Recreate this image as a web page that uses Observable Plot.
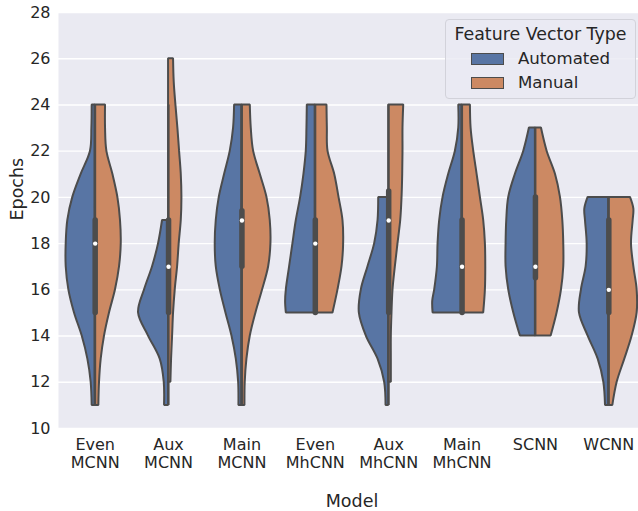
<!DOCTYPE html>
<html>
<head>
<meta charset="utf-8">
<script src="https://cdn.jsdelivr.net/npm/d3@7"></script>
<script src="https://cdn.jsdelivr.net/npm/@observablehq/plot@0.6"></script>
<style>
  body { margin: 0; background: #fff; overflow: hidden; }
  #wrap { position: relative; width: 638px; height: 511px; overflow: hidden; font-family: "DejaVu Sans", sans-serif; color: #262626; }
  #legend { position: absolute; left: 445px; top: 19px; width: 191px; height: 80px; box-sizing: border-box;
            border: 1px solid #d2d2da; border-radius: 4px; background: rgba(234,234,242,0.8); }
  #legend .title { position: absolute; left: 0; top: 3px; width: 100%; text-align: center; font-size: 17.4px; line-height: 22px; }
  #legend .patch { position: absolute; left: 25px; width: 33px; height: 12px; box-sizing: border-box; border: 1.4px solid #4c4c4c; }
  #legend .lab { position: absolute; left: 72px; font-size: 16.6px; line-height: 22px; }
</style>
</head>
<body>
<div id="wrap"></div>
<script>
// ---- data ----
const models = ["Even MCNN", "Aux MCNN", "Main MCNN", "Even MhCNN", "Aux MhCNN", "Main MhCNN", "SCNN", "WCNN"];
const types = ["Automated", "Manual"];
const yTicks = [10, 12, 14, 16, 18, 20, 22, 24, 26, 28];

// violin half-width profiles: [epochs, half-width as a fraction of the category spacing]
const evenMcnnAuto = [[11,.041],[12,.055],[13,.100],[14,.177],[15,.282],[16,.359],[17,.395],[18,.395],[19,.373],[20,.305],[21,.191],[22,.064],[23,.045],[24,.041]];
const evenMcnnMan  = [[11,.050],[12,.059],[13,.082],[14,.127],[15,.195],[16,.277],[17,.332],[18,.355],[19,.345],[20,.309],[21,.241],[22,.159],[23,.141],[24,.141]];
const auxMcnnAuto  = [[11,.055],[12,.059],[13,.114],[14,.273],[15,.409],[16,.327],[17,.218],[18,.136],[19,.082]];
const auxMcnnMan   = [[12,.032],[13,.041],[14,.055],[15,.068],[16,.091],[17,.123],[18,.145],[19,.173],[20,.182],[21,.173],[22,.150],[23,.127],[24,.100],[25,.077],[26,.068]];
const mainMcnnAuto = [[11,.041],[12,.045],[13,.077],[14,.136],[15,.218],[16,.295],[17,.350],[18,.364],[19,.350],[20,.309],[21,.236],[22,.159],[23,.114],[24,.100]];
const mainMcnnMan  = [[11,.041],[12,.045],[13,.068],[14,.114],[15,.191],[16,.282],[17,.364],[18,.395],[19,.386],[20,.341],[21,.250],[22,.159],[23,.127],[24,.114]];
const evenMhAuto   = [[15,.395],[15.5,.405],[16,.395],[17,.350],[18,.305],[19,.259],[20,.200],[21,.155],[22,.123],[23,.114],[24,.109]];
const evenMhMan    = [[15,.241],[16,.309],[17,.364],[18,.386],[19,.377],[20,.323],[21,.264],[22,.173],[23,.164],[24,.159]];
const auxMhAuto    = [[11,.036],[12,.055],[13,.145],[14,.305],[15,.400],[16,.373],[17,.282],[18,.191],[19,.145],[20,.136]];
const auxMhMan     = [[12,.036],[13,.036],[14,.036],[15,.045],[16,.059],[17,.091],[18,.127],[19,.164],[20,.182],[21,.191],[22,.195],[23,.195],[24,.205]];
const mainMhAuto   = [[15,.395],[15.5,.400],[16,.373],[17,.336],[18,.327],[19,.305],[20,.259],[21,.182],[22,.091],[23,.045],[24,.045]];
const mainMhMan    = [[15,.295],[16,.318],[17,.323],[18,.318],[19,.295],[20,.250],[21,.205],[22,.159],[23,.123],[24,.114]];
const scnnAuto     = [[14,.205],[15,.295],[16,.364],[17,.400],[18,.400],[19,.391],[20,.364],[21,.273],[22,.159],[23,.082]];
const scnnMan      = [[14,.214],[15,.295],[16,.355],[17,.386],[18,.386],[19,.373],[20,.341],[21,.273],[22,.159],[23,.082]];
const wcnnAuto     = [[11,.045],[12,.068],[13,.145],[14,.282],[15,.400],[16,.373],[17,.309],[18,.295],[19,.318],[19.5,.327],[20,.282]];
const wcnnMan      = [[11,.055],[12,.114],[13,.218],[14,.318],[15,.386],[16,.386],[17,.341],[18,.309],[19,.332],[19.5,.341],[20,.295]];

// inner box (all data of the group)
const q1 = [15, 15, 17, 15, 15, 15, 16.5, 15];
const median = [18, 17, 19, 18, 19, 17, 17, 16];
const q3 = [19, 19, 19.4, 19, 20.25, 19, 20, 19];
const whiskerLo = [11, 11, 11, 15, 11, 15, 14, 11];
const whiskerHi = [24, 24, 24, 24, 24, 24, 23, 20];

// ---- build tables ----
const profiles = [
  [evenMcnnAuto, evenMcnnMan], [auxMcnnAuto, auxMcnnMan], [mainMcnnAuto, mainMcnnMan],
  [evenMhAuto, evenMhMan], [auxMhAuto, auxMhMan], [mainMhAuto, mainMhMan],
  [scnnAuto, scnnMan], [wcnnAuto, wcnnMan]
];
const rows = [];
profiles.forEach((pair, i) => pair.forEach((prof, t) => prof.forEach(([e, w]) => rows.push({i, model: models[i], type: types[t], e, w}))));
const boxes = models.map((m, i) => ({i, model: m, q1: q1[i], q3: q3[i], med: median[i], lo: whiskerLo[i], hi: whiskerHi[i]}));

const gray = "#4c4c4c";
const idx = models.map((_, i) => i);

const chart = Plot.plot({
  width: 638,
  height: 511,
  marginLeft: 58,
  marginRight: 0,
  marginTop: 12,
  marginBottom: 83,
  style: {fontFamily: "DejaVu Sans, sans-serif", color: "#262626", background: "white"},
  x: {domain: [-0.5, 7.5], range: [58, 645]},
  y: {domain: [10, 28]},
  color: {domain: types, range: ["#5875a4", "#cc8963"]},
  marks: [
    Plot.frame({fill: "#eaeaf2", stroke: null}),
    Plot.gridY(yTicks, {stroke: "white", strokeOpacity: 1, strokeWidth: 1.4}),
    Plot.areaX(rows, {
      y: "e",
      x1: d => d.type === "Automated" ? d.i - d.w : d.i,
      x2: d => d.type === "Automated" ? d.i : d.i + d.w,
      z: d => d.model + "|" + d.type,
      fill: "type",
      fillOpacity: 1,
      stroke: gray,
      strokeWidth: 2,
      strokeLinejoin: "miter",
      curve: "catmull-rom"
    }),
    Plot.ruleX(boxes, {x: "i", y1: "lo", y2: "hi", stroke: gray, strokeWidth: 2}),
    Plot.ruleX(boxes, {x: "i", y1: "q1", y2: "q3", stroke: gray, strokeWidth: 5.5, strokeLinecap: "round"}),
    Plot.dot(boxes, {x: "i", y: "med", r: 2.2, fill: "white", stroke: null}),
    Plot.axisY(yTicks, {tickSize: 0, tickPadding: 8, fontSize: 16, label: null}),
    Plot.axisX(idx, {tickSize: 0, tickPadding: 9, fontSize: 16, lineHeight: 1.125, label: null,
      tickFormat: i => models[i].replace(" ", "\n")}),
    Plot.text(["Epochs"], {text: d => d, frameAnchor: "left", dx: -41, rotate: -90, fontSize: 17.5, fill: "#262626"}),
    Plot.text(["Model"], {text: d => d, frameAnchor: "bottom", dy: 78, dx: 3.5, fontSize: 17.5, fill: "#262626"})
  ]
});

const wrap = document.getElementById("wrap");
wrap.appendChild(chart);

// legend (matplotlib-style, upper right inside axes)
const legend = document.createElement("div");
legend.id = "legend";
const colors = {"Automated": "#5875a4", "Manual": "#cc8963"};
let html = '<div class="title">Feature Vector Type</div>';
types.forEach((t, k) => {
  const cy = 39 + k * 24;
  html += `<div class="patch" style="top:${cy - 6}px;background:${colors[t]}"></div>`;
  html += `<div class="lab" style="top:${cy - 11}px">${t}</div>`;
});
legend.innerHTML = html;
wrap.appendChild(legend);
</script>
</body>
</html>
